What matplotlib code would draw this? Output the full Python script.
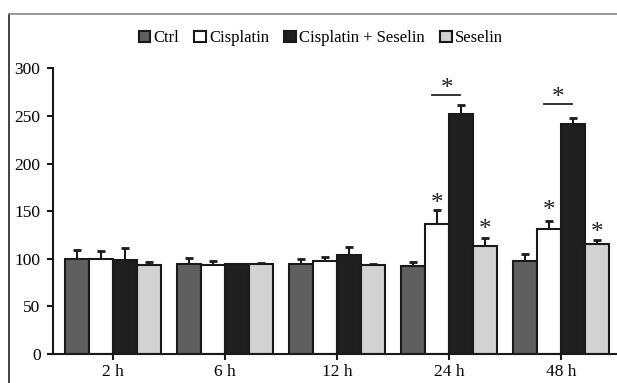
import numpy as np
import matplotlib
matplotlib.use('Agg')
import matplotlib.pyplot as plt
from matplotlib.lines import Line2D

plt.rcParams['font.family'] = ['Liberation Serif', 'DejaVu Serif']

# Data
times = ['2 h', '6 h', '12 h', '24 h', '48 h']
groups = ['Ctrl', 'Cisplatin', 'Cisplatin + Seselin', 'Seselin']
ctrl = [100, 95, 94, 92, 98]
ctrl_err = [9, 6, 6, 5, 7]
cis = [100, 93, 98, 136, 131]
cis_err = [8, 5, 4, 15, 9]
cis_ses = [99, 94, 104, 252, 242]
cis_ses_err = [12, 0, 8, 9, 6]
ses = [93, 95, 93, 113, 116]
ses_err = [4, 1, 1, 9, 4]

colors = ['#5f5f5f', '#ffffff', '#1f1f1f', '#d2d2d2']
values = [ctrl, cis, cis_ses, ses]
errors = [ctrl_err, cis_err, cis_ses_err, ses_err]

fig = plt.figure(figsize=(6.17, 3.83), dpi=100)
ax = fig.add_axes([0.086, 0.0757, 0.912, 0.746])

x = np.arange(len(times))
w = 0.214
for i, (vals, errs, col, lab) in enumerate(zip(values, errors, colors, groups)):
    pos = x + (i - 1.5) * w
    ax.bar(pos, vals, w, color=col, edgecolor='#1a1a1a', linewidth=1.5, label=lab, zorder=2)
    ax.errorbar(pos, vals, yerr=[np.zeros(len(errs)), errs], fmt='none',
                ecolor='#1a1a1a', elinewidth=1.5, capsize=3, capthick=2, zorder=1)

# significance marks (24 h and 48 h)
star_kw = dict(ha='center', va='center', fontsize=18, color='#222222')
sig_idx = [3, 4]
cis_gap = [7, 10]
ses_gap = [8, 7]
line_gap = [11, 15]
for t, cg, sg, lg in zip(sig_idx, cis_gap, ses_gap, line_gap):
    ax.text(x[t] - 0.5 * w, cis[t] + cis_err[t] + cg, '*', **star_kw)
    ax.text(x[t] + 1.5 * w, ses[t] + ses_err[t] + sg, '*', **star_kw)
    top = cis_ses[t] + cis_ses_err[t] + lg
    ax.plot([x[t] - 0.71 * w, x[t] + 0.46 * w], [top, top], color='#222222', lw=1.3)
    ax.text(x[t] - 0.1 * w, top + 6, '*', **star_kw)

ax.set_xlim(-0.536, 4.49)
ax.set_ylim(0, 300)
ax.set_yticks(range(0, 301, 50))
ax.set_xticks(x)
ax.set_xticklabels(times)
ax.tick_params(axis='both', labelsize=12.5, width=1.5, length=4, color='#1a1a1a')
ax.tick_params(axis='x', pad=3)
ax.tick_params(axis='y', pad=5)
for s in ['top', 'right']:
    ax.spines[s].set_visible(False)
for s in ['left', 'bottom']:
    ax.spines[s].set_linewidth(1.5)
    ax.spines[s].set_color('#1a1a1a')

fig.legend(loc='center', bbox_to_anchor=(0.52, 0.9), ncol=4, frameon=False,
           fontsize=12, handlelength=0.7, handleheight=0.7, handletextpad=0.2,
           columnspacing=0.9)

# outer frame lines
fig.add_artist(Line2D([9 / 617, 9 / 617], [0, 1 - 14 / 383], color='#222222', lw=1.2))
fig.add_artist(Line2D([9 / 617, 1], [1 - 14 / 383, 1 - 14 / 383], color='#888888', lw=1.2))

fig.savefig('out.png', dpi=100)
